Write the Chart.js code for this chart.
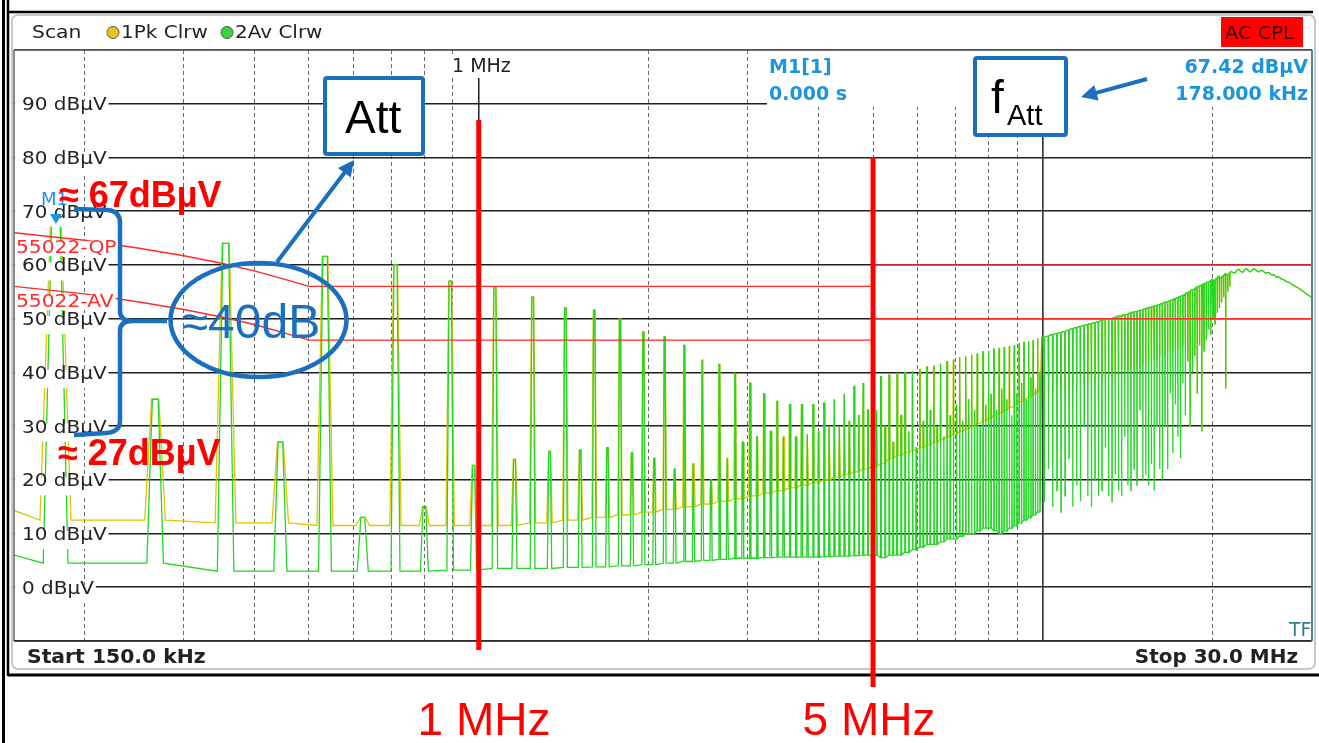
<!DOCTYPE html>
<html>
<head>
<meta charset="utf-8">
<title>Conducted emission scan</title>
<script src="https://cdn.jsdelivr.net/npm/chart.js@4.4.1/dist/chart.umd.min.js"></script>
<style>
  html, body { margin: 0; padding: 0; background: #fff; }
  canvas { display: block; }
</style>
</head>
<body>
<canvas id="scan" width="1319" height="743"></canvas>
<script>
// sweep range, kHz
const startKHz = 150;
const stopKHz = 30000;

// converter lines sit on a 178 kHz comb, weaker lines half way between them
const lineStepKHz = 178;

// Av trace (green): level of the line at k*178 kHz, k = 1..168
const avEven = [67.4, 64, 61.6, 60, 57, 55.9, 54, 52, 51.6, 49.9,
  47.5, 46.6, 45, 42.3, 41.5, 39.8, 38, 36, 34.6, 34,
  34, 34, 34.3, 35, 36, 37.4, 38, 38.6, 39.2, 39.5,
  39.7, 40, 40.2, 40.6, 41, 41.2, 41.6, 42, 42.4, 42.8,
  43, 43.3, 43.5, 43.8, 44, 44.3, 44.5, 44.7, 44.9, 45.1,
  45.4, 45.6, 45.8, 46, 46.3, 46.5, 46.7, 47, 47.2, 47.4,
  47.6, 47.8, 48.1, 48.3, 48.5, 48.7, 48.9, 49, 49.2, 49.4,
  49.6, 49.8, 49.9, 50, 50.2, 50.4, 50.5, 50.7, 50.8, 51,
  51.2, 51.3, 51.5, 51.6, 51.8, 52, 52.1, 52.3, 52.4, 52.6,
  52.8, 53, 53.1, 53.3, 53.5, 53.7, 53.9, 54.1, 54.3, 54.5,
  54.8, 55, 55.3, 55.5, 55.8, 56, 56.2, 56.4, 56.6, 56.8,
  57, 57.3, 57.1, 57.5, 57.8, 57.6, 57.9, 58.3, 58.1, 58.4,
  58.8, 58.6, 58.5, 58.9, 59.2, 58.8, 58.6, 59, 59.3, 59,
  58.7, 59, 59.3, 59.1, 58.8, 58.7, 59, 58.9, 58.6, 58.5,
  58.6, 58.4, 58.1, 58.2, 58, 57.7, 57.8, 57.6, 57.3, 57.3,
  57.1, 56.9, 56.8, 56.7, 56.4, 56.3, 56.1, 55.9, 55.8, 55.6,
  55.4, 55.2, 55, 54.8, 54.6, 54.4, 54.2, 54];

// Av trace: level at (k+0.5)*178 kHz; above 10 MHz these are dips down from the envelope
const avOdd = [35, 27, 13, 15, 22.7, 23.8, 25.3, 25.5, 26, 25,
  24, 22, 23, 20, 24, 27, 28, 29, 28, 28,
  28.5, 29, 30, 30, 31, 32, 33, 33, 30, 27,
  32, 29, 26, 31, 33, 30, 28, 32, 34, 31,
  35, 33, 30, 34, 36, 33, 37, 35, 32, 36,
  38, 35, 39, 37, 40, 16, 22, 15, 18, 14,
  17, 24, 15, 19, 16, 30, 17, 15, 20, 17,
  18, 26, 17, 16, 21, 18, 17, 28, 19, 18,
  22, 19, 33, 20, 21, 19, 23, 18, 30, 22,
  20, 30, 22, 36, 25, 34, 28, 24, 38, 32,
  42, 30, 40, 43, 36, 45, 29, 44, 46, 48,
  47, 50, 49, 51, 52, 53, 54, 37, 55, 56];

// Av trace: floor between the lines up to 10 MHz (above that it rides on avEven)
const avValley = [4.5, 3, 3, 3, 3.2, 3.5, 3.5, 3.7, 3.8, 4,
  4.2, 4.5, 4.8, 5, 5.2, 5.4, 5.4, 5.5, 5.6, 5.6,
  5.6, 5.6, 5.7, 5.8, 5.8, 5.9, 6, 6, 5.5, 6,
  6, 6.5, 7, 7.5, 8, 8, 8.5, 9, 9, 9.5,
  10, 10, 10.5, 11, 11, 10.5, 10, 10.5, 11, 11.5,
  12, 12.5, 13, 13.5, 14];

// Pk trace (yellow): its own floor, k = 1..100; above that it follows the Av trace
const pkFloor = [12.5, 12, 11.5, 11.5, 11.5, 11.5, 12, 12.5, 13, 13.5,
  14, 14.5, 15, 15.5, 16, 16.5, 17, 17.5, 18, 18.5,
  19, 19.5, 20, 20.5, 21, 21.5, 22, 22.5, 23, 24,
  24.5, 25, 25.5, 26, 26.5, 27, 27.5, 28, 28.5, 29,
  29.5, 30, 30.5, 31, 31.5, 32, 32.5, 33, 33.5, 34,
  34.5, 35, 35.5, 36, 36.5, 36.5, 36.5, 36.5, 37, 37,
  37, 37.5, 37.5, 37.5, 38, 38, 38, 38.5, 38.5, 38.5,
  39, 39, 39, 39.5, 39.5, 39.5, 40, 40, 40, 40.5,
  40.5, 41, 41, 41.5, 41.5, 42, 42, 42.5, 42.5, 43,
  43, 43.5, 43.5, 44, 44, 44.5, 44.5, 45, 45, 45.5];

// half width of a line at its foot, kHz (k = 1..5, the last value beyond)
const lineHalfWidth = [9, 12, 14, 13, 12];
const avStartLevel = 6;
const pkStartLevel = 14.3;

// EN 55022 class B limits as drawn by the analyser
const limitKHz = [150, 200, 250, 300, 350, 400, 450, 500, 5000, 5000, 30000];
const qpLimit = [66, 64.6, 63.1, 61.7, 60.3, 58.9, 57.4, 56, 56, 60, 60];
const avLimit = [56, 54.6, 53.1, 51.7, 50.3, 48.9, 47.4, 46, 46, 50, 50];

// marker 1
const m1KHz = 178;
const m1Level = 67.42;

// axes
const levelTicks = [0, 10, 20, 30, 40, 50, 60, 70, 80, 90];
const gridKHz = [200, 300, 400, 500, 600, 700, 800, 900, 2000, 3000, 4000, 5000, 6000, 7000, 8000, 9000, 20000];

const blue = '#1b6fbe';
const mkBlue = '#1d95dd';

// build a trace from the line table; pk trace is lifted onto its own floor
function buildTrace(floor, widthScale, startLevel) {
  const pts = [{ x: startKHz, y: startLevel }];
  const lift = (v, k) => (floor && k <= floor.length) ? Math.max(v, floor[k - 1]) : v;
  let base = startLevel;
  for (let k = 1; k <= avEven.length; k++) {
    base = lift(k <= avValley.length ? avValley[k - 1] : avEven[k - 1], k);
    const w = lineHalfWidth[Math.min(k, lineHalfWidth.length) - 1] * widthScale;
    addLine(pts, k * lineStepKHz, lift(avEven[k - 1], k), base, w);
    if (k <= avOdd.length) addLine(pts, (k + 0.5) * lineStepKHz, lift(avOdd[k - 1], k), base, w);
  }
  pts.push({ x: stopKHz, y: base });
  return pts;
}
function addLine(pts, f, level, base, w) {
  pts.push({ x: f - w, y: base }, { x: f - 0.35 * w, y: level },
           { x: f + 0.35 * w, y: level }, { x: f + w, y: base });
}

const avTrace = buildTrace(null, 1, avStartLevel);
const pkTrace = buildTrace(pkFloor, 1.25, pkStartLevel);
const qpPts = limitKHz.map((f, i) => ({ x: f, y: qpLimit[i] }));
const avLimPts = limitKHz.map((f, i) => ({ x: f, y: avLimit[i] }));

function vline(ctx, x, y1, y2) { ctx.beginPath(); ctx.moveTo(x, y1); ctx.lineTo(x, y2); ctx.stroke(); }

// text with optional horizontal stretch and white backing box
function text(ctx, s, x, y, o) {
  ctx.save();
  ctx.font = o.font;
  const sx = o.sx || 1;
  const w = ctx.measureText(s).width * sx;
  const left = o.align === 'right' ? x - w : (o.align === 'center' ? x - w / 2 : x);
  if (o.box) {
    const bx = o.boxLeft !== undefined ? o.boxLeft : left - 2;
    ctx.fillStyle = '#fff';
    ctx.fillRect(bx, y - o.box[0], left + w + 2 - bx, o.box[0] + o.box[1]);
  }
  ctx.fillStyle = o.color || '#222';
  ctx.translate(left, y);
  ctx.scale(sx, 1);
  ctx.textAlign = 'left';
  ctx.fillText(s, 0, 0);
  ctx.restore();
}

function arrow(ctx, x1, y1, x2, y2, head) {
  const a = Math.atan2(y2 - y1, x2 - x1);
  ctx.beginPath();
  ctx.moveTo(x1, y1);
  ctx.lineTo(x2 - Math.cos(a) * head * 0.8, y2 - Math.sin(a) * head * 0.8);
  ctx.stroke();
  ctx.beginPath();
  ctx.moveTo(x2, y2);
  ctx.lineTo(x2 - head * Math.cos(a) + head * 0.5 * Math.sin(a), y2 - head * Math.sin(a) - head * 0.5 * Math.cos(a));
  ctx.lineTo(x2 - head * Math.cos(a) - head * 0.5 * Math.sin(a), y2 - head * Math.sin(a) + head * 0.5 * Math.cos(a));
  ctx.closePath();
  ctx.fill();
}

const overlay = {
  id: 'overlay',
  beforeDatasetsDraw(chart) {
    const { ctx, scales: { x }, chartArea: a } = chart;
    ctx.save();
    // marker readout area hides the grid
    ctx.fillStyle = '#fff';
    ctx.fillRect(767, a.top + 1, a.right - 767, 56);
    ctx.strokeStyle = '#222';
    ctx.lineWidth = 1.5;
    vline(ctx, x.getPixelForValue(1000), 78, a.bottom);
    vline(ctx, x.getPixelForValue(10000), 137, a.bottom);
    ctx.restore();
  },
  afterDraw(chart) {
    const { ctx, scales: { x, y }, chartArea: a } = chart;
    const rs = '"DejaVu Sans"';
    ctx.save();

    // level labels
    levelTicks.forEach(v => {
      const py = y.getPixelForValue(v);
      text(ctx, v + ' dBµV', 22, py + 6.5, { font: '18px ' + rs, sx: 1.11, box: [9, 9], boxLeft: a.left + 1 });
    });
    // limit line labels
    text(ctx, '55022-QP', 16, 253, { font: '17px ' + rs, sx: 1.19, color: '#ff2a2a', box: [12, 3], boxLeft: a.left + 1 });
    text(ctx, '55022-AV', 16, 307, { font: '17px ' + rs, sx: 1.19, color: '#ff2a2a', box: [12, 3], boxLeft: a.left + 1 });

    // plot frame
    ctx.lineWidth = 1.5;
    ctx.strokeStyle = '#666';
    vline(ctx, a.left, a.top, a.bottom);
    ctx.beginPath(); ctx.moveTo(a.left, a.top); ctx.lineTo(a.right, a.top); ctx.stroke();
    ctx.strokeStyle = '#333';
    ctx.beginPath(); ctx.moveTo(a.left, a.bottom); ctx.lineTo(a.right, a.bottom); ctx.stroke();
    ctx.strokeStyle = '#4b8796';
    ctx.lineWidth = 2;
    vline(ctx, a.right, a.top, a.bottom);

    // header
    text(ctx, 'Scan', 32, 38, { font: '18px ' + rs, sx: 1.13 });
    [[113, '#e8c51a', '1Pk Clrw'], [227, '#3ad43a', '2Av Clrw']].forEach(([cx, col, s]) => {
      ctx.beginPath(); ctx.arc(cx, 32.5, 6, 0, Math.PI * 2);
      ctx.fillStyle = col; ctx.fill();
      ctx.strokeStyle = '#555'; ctx.lineWidth = 1; ctx.stroke();
      text(ctx, s, cx + 8, 38, { font: '18px ' + rs, sx: 1.11 });
    });
    ctx.fillStyle = '#ff0000';
    ctx.fillRect(1221, 17, 82, 30);
    text(ctx, 'AC CPL', 1225, 39, { font: '18px ' + rs, sx: 1.08, color: '#3a0000' });

    // frequency line label
    text(ctx, '1 MHz', 452, 72, { font: '19px ' + rs, box: [15, 3] });

    // marker readout
    text(ctx, 'M1[1]', 769, 73, { font: 'bold 19px ' + rs, color: mkBlue });
    text(ctx, '0.000 s', 769, 100, { font: 'bold 19px ' + rs, color: mkBlue });
    text(ctx, '67.42 dBµV', 1308, 73, { font: 'bold 19px ' + rs, color: mkBlue, align: 'right' });
    text(ctx, '178.000 kHz', 1308, 100, { font: 'bold 19px ' + rs, color: mkBlue, align: 'right' });

    // marker M1
    const mx = x.getPixelForValue(m1KHz), my = y.getPixelForValue(m1Level);
    ctx.fillStyle = mkBlue;
    ctx.beginPath(); ctx.moveTo(mx - 6, my - 11); ctx.lineTo(mx + 6, my - 11); ctx.lineTo(mx, my - 1); ctx.closePath(); ctx.fill();
    text(ctx, 'M1', 41, 205, { font: '18px ' + rs, color: mkBlue });

    // footer
    text(ctx, 'Start 150.0 kHz', 27, 663, { font: 'bold 19px ' + rs, sx: 1.07 });
    text(ctx, 'Stop 30.0 MHz', 1298, 663, { font: 'bold 19px ' + rs, sx: 1.05, align: 'right' });
    text(ctx, 'TF', 1289, 636, { font: '19px ' + rs, color: '#3b7d8c' });

    // instrument frame
    ctx.strokeStyle = '#c8c8c8';
    ctx.lineWidth = 2;
    ctx.beginPath(); ctx.roundRect(12, 15, 1303, 654, 6); ctx.stroke();
    ctx.strokeStyle = '#000';
    ctx.lineWidth = 3;
    vline(ctx, 3.5, 0, 743);
    ctx.lineWidth = 2.5;
    vline(ctx, 8, 0, 676);
    ctx.beginPath(); ctx.moveTo(8, 12); ctx.lineTo(1313, 12); ctx.stroke();
    ctx.lineWidth = 3;
    ctx.beginPath(); ctx.moveTo(8, 675); ctx.lineTo(1319, 675); ctx.stroke();

    // red frequency cursors
    ctx.strokeStyle = '#ff0000';
    ctx.lineWidth = 5;
    vline(ctx, x.getPixelForValue(1000), 120, 650);
    vline(ctx, x.getPixelForValue(5000), 157, 687);
    text(ctx, '1 MHz', 484, 735, { font: '46px "Liberation Sans"', color: '#ff0000', align: 'center' });
    text(ctx, '5 MHz', 869, 735, { font: '46px "Liberation Sans"', color: '#ff0000', align: 'center' });

    // level annotations
    text(ctx, '≈ 67dBµV', 59, 207, { font: 'bold 36px "Liberation Sans"', color: '#ff0000' });
    text(ctx, '≈ 27dBµV', 58, 465, { font: 'bold 36px "Liberation Sans"', color: '#ff0000' });

    ctx.strokeStyle = blue;
    ctx.fillStyle = blue;
    ctx.lineWidth = 4.5;
    ctx.lineJoin = 'round';
    ctx.beginPath();
    ctx.moveTo(74, 209); ctx.lineTo(108, 210);
    ctx.quadraticCurveTo(120, 211, 120, 223);
    ctx.lineTo(120, 311);
    ctx.quadraticCurveTo(120, 321, 132, 321);
    ctx.lineTo(167, 321);
    ctx.moveTo(132, 321);
    ctx.quadraticCurveTo(120, 321, 120, 331);
    ctx.lineTo(120, 421);
    ctx.quadraticCurveTo(120, 432, 106, 433);
    ctx.lineTo(74, 435);
    ctx.stroke();

    ctx.beginPath(); ctx.ellipse(258.5, 320, 88, 57, 0, 0, Math.PI * 2); ctx.stroke();
    text(ctx, '≈40dB', 251, 338, { font: '48px "Liberation Sans"', color: blue, align: 'center' });

    ctx.lineWidth = 4;
    arrow(ctx, 277, 262, 354, 160, 16);

    ctx.fillStyle = '#fff';
    ctx.beginPath(); ctx.roundRect(325, 78, 98, 76, 2); ctx.fill(); ctx.stroke();
    text(ctx, 'Att', 345, 133, { font: '46px "Liberation Sans"', color: '#000' });

    ctx.fillStyle = '#fff';
    ctx.beginPath(); ctx.roundRect(975, 58, 91, 77, 2); ctx.fill(); ctx.stroke();
    text(ctx, 'f', 991, 113, { font: '46px "Liberation Sans"', color: '#000' });
    text(ctx, 'Att', 1007, 125, { font: '29px "Liberation Sans"', color: '#000' });

    ctx.fillStyle = blue;
    arrow(ctx, 1147, 79, 1081, 97, 16);

    ctx.restore();
  }
};

new Chart(document.getElementById('scan'), {
  type: 'line',
  data: {
    datasets: [
      { data: qpPts, borderColor: '#ff2a2a', borderWidth: 1.4, order: 0 },
      { data: avLimPts, borderColor: '#ff2a2a', borderWidth: 1.4, order: 0 },
      { data: avTrace, borderColor: '#22d822', borderWidth: 1.3, order: 1 },
      { data: pkTrace, borderColor: '#e6c200', borderWidth: 1.3, order: 2 }
    ]
  },
  options: {
    responsive: false,
    animation: false,
    devicePixelRatio: 1,
    layout: { padding: { left: 14, right: 7, top: 50, bottom: 102 } },
    elements: { point: { radius: 0 }, line: { tension: 0, fill: false } },
    plugins: { legend: { display: false }, tooltip: { enabled: false } },
    scales: {
      x: {
        type: 'logarithmic', min: startKHz, max: stopKHz,
        afterBuildTicks: s => { s.ticks = gridKHz.map(v => ({ value: v })); },
        ticks: { display: false, autoSkip: false },
        grid: { color: '#666', lineWidth: 1, drawTicks: false },
        border: { display: false, dash: [4, 3] }
      },
      y: {
        type: 'linear', min: -10, max: 100,
        ticks: { display: false, stepSize: 10 },
        grid: { color: '#1e1e1e', lineWidth: 1.6, drawTicks: false },
        border: { display: false }
      }
    }
  },
  plugins: [overlay]
});
</script>
</body>
</html>
